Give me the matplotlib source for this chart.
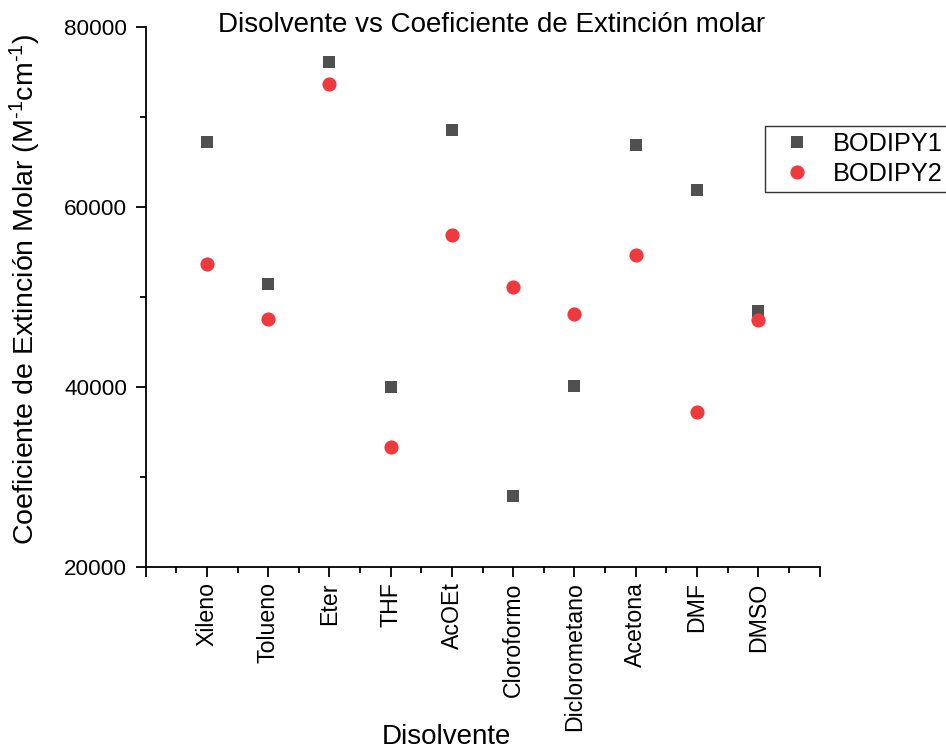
import matplotlib
matplotlib.use("Agg")
import matplotlib.pyplot as plt
from matplotlib.ticker import MultipleLocator, FixedLocator

plt.rcParams['font.family'] = ['Liberation Sans', 'DejaVu Sans']
plt.rcParams['mathtext.fontset'] = 'custom'
plt.rcParams['mathtext.rm'] = 'Liberation Sans'
plt.rcParams['mathtext.default'] = 'regular'

disolventes = ["Xileno", "Tolueno", "Eter", "THF", "AcOEt", "Cloroformo",
               "Diclorometano", "Acetona", "DMF", "DMSO"]
bodipy1 = [67150, 51460, 76030, 40040, 68480, 27910, 40080, 66810, 61830, 48470]
bodipy2 = [53650, 47580, 73580, 33310, 56830, 51060, 48140, 54610, 37230, 47400]
y_ticks = [20000, 40000, 60000, 80000]

fig = plt.figure(figsize=(9.46, 7.49), dpi=100)
ax = fig.add_axes([145.7/946, 1-567.3/749, (819.5-145.7)/946, (567.3-26.5)/749])

x = list(range(1, len(disolventes)+1))
ax.plot(x, bodipy1, linestyle='none', marker='s', markersize=8.6,
        color='#505050', markeredgewidth=0, label='BODIPY1')
ax.plot(x, bodipy2, linestyle='none', marker='o', markersize=10.2,
        color='#F0393C', markeredgewidth=0, label='BODIPY2')

ax.set_xlim(0, len(disolventes)+1)
ax.set_ylim(20000, 80000)

ax.xaxis.set_major_locator(FixedLocator(list(range(0, len(disolventes)+2))))
ax.set_xticklabels([''] + disolventes + [''], rotation=90, fontsize=16.7)
ax.xaxis.set_minor_locator(MultipleLocator(0.5))
ax.set_yticks(y_ticks)
ax.set_yticklabels([str(v) for v in y_ticks], fontsize=16.2)
ax.yaxis.set_minor_locator(MultipleLocator(10000))

for s in ['top', 'right']:
    ax.spines[s].set_visible(False)
for s in ['left', 'bottom']:
    ax.spines[s].set_linewidth(1.3)
    ax.spines[s].set_color('black')

ax.tick_params(which='major', direction='out', length=7.2, width=1.3)
ax.tick_params(axis='x', which='major', pad=3.6)
ax.tick_params(axis='y', which='major', pad=6)
ax.tick_params(which='minor', direction='out', length=4, width=1.3)

fig.text(446/946, 1-737/749, 'Disolvente', fontsize=20, ha='center', va='center')
fig.text(25/946, 1-289/749, 'Coeficiente de Extinción Molar (M$^{\u2010 1}$cm$^{\u2010 1}$)'.replace('\u2010 ', '\u2010'),
         fontsize=20.5, rotation=90, ha='center', va='center')
fig.text(492/946, 1-25/749, 'Disolvente vs Coeficiente de Extinción molar',
         fontsize=20, ha='center', va='center')

leg = fig.legend(loc='upper left', bbox_to_anchor=(765/946, 1-126/749),
                 fontsize=18.3, frameon=True, fancybox=False, borderaxespad=0,
                 handlelength=2.0, handletextpad=0.42, labelspacing=0.22,
                 borderpad=0.25)
leg.get_frame().set_edgecolor('black')
leg.get_frame().set_linewidth(1.0)

fig.savefig('out.png', dpi=100)
